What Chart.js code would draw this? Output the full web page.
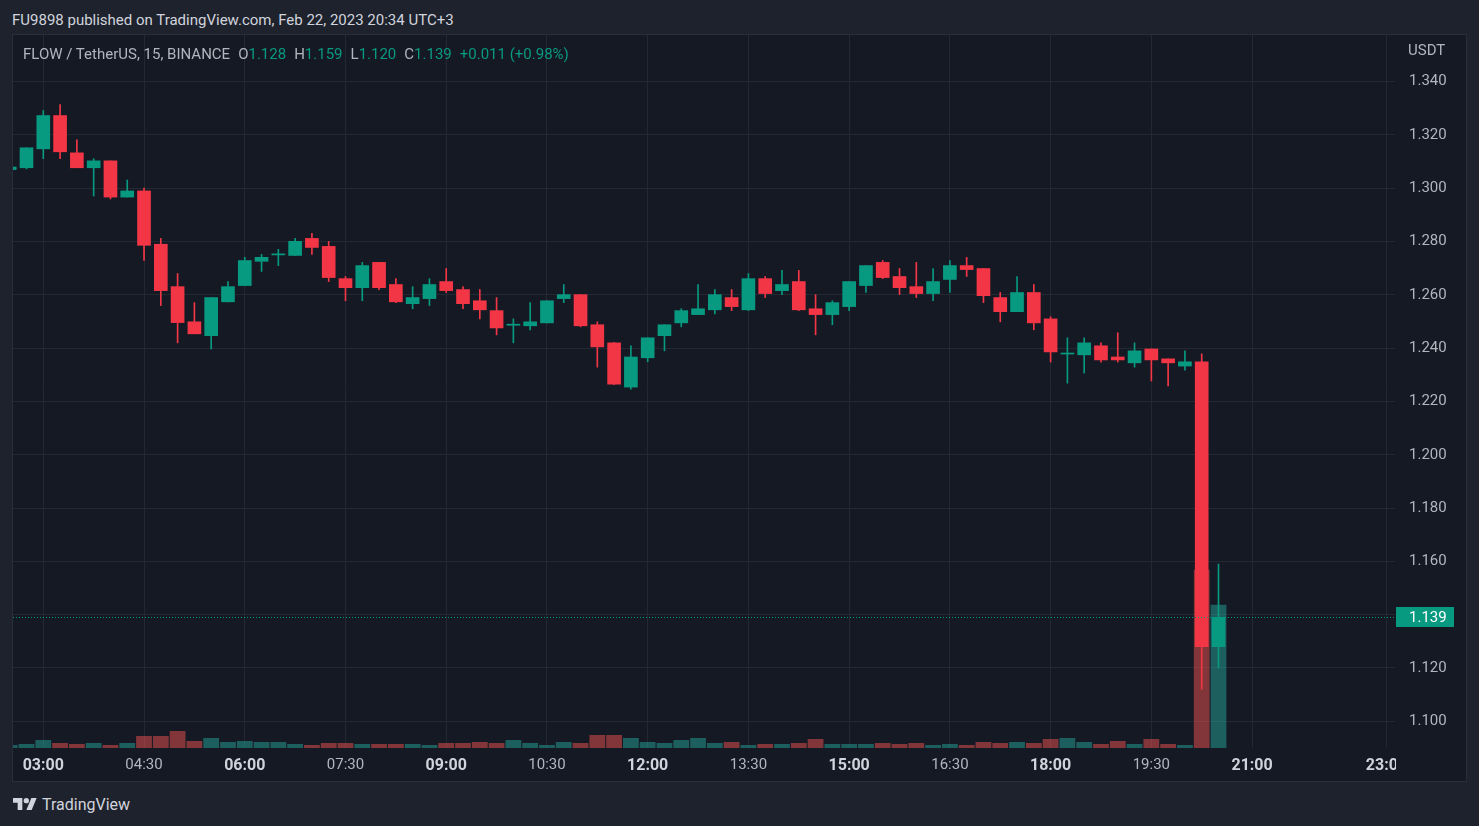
<!DOCTYPE html>
<html>
<head>
<meta charset="utf-8">
<script src="https://cdn.jsdelivr.net/npm/chart.js@4.4.0/dist/chart.umd.min.js"></script>
<style>
  html, body { margin: 0; padding: 0; width: 1479px; height: 826px; overflow: hidden; background: #1e222d; font-family: Roboto, sans-serif; }
  #title { position: absolute; left: 12px; top: 11px; font-size: 15px; line-height: 18px; color: #d1d4dc; white-space: nowrap; }
  #panel { position: absolute; left: 12px; top: 34px; width: 1455px; height: 748px; box-sizing: border-box; border: 1px solid #2a2e39; background: #151924; }
  #chart { position: absolute; left: 0; top: 0; }
  #legend { position: absolute; left: 10px; top: 10px; font-size: 15px; line-height: 18px; color: #b2b5be; white-space: nowrap; }
  #legend span.g { color: #089981; }
  #legend span.sp { margin-left: 8px; }
  #unit { position: absolute; left: 1395px; top: 6px; font-size: 15px; line-height: 18px; color: #b2b5be; }
  #footer { position: absolute; left: 13px; top: 795px; height: 18px; display: flex; align-items: center; color: #d1d4dc; font-size: 16px; }
  #footer svg { margin-right: 5px; }
</style>
</head>
<body>
<div id="title">FU9898 published on TradingView.com, Feb 22, 2023 20:34 UTC+3</div>
<div id="panel">
  <canvas id="chart" width="1453" height="746"></canvas>
  <div id="legend"></div>
  <div id="unit">USDT</div>
</div>
<div id="footer">
  <svg width="24" height="12" viewBox="0 4 36 18"><path fill="#d1d4dc" d="M14 22H7V11H0V4h14v18zM28 22h-8l7.5-18h8L28 22z"/><circle fill="#d1d4dc" cx="20" cy="8" r="4"/></svg>
  <span>TradingView</span>
</div>
<script>
// 15분봉 시간
const times = [
  '02:30','02:45',
  '03:00','03:15','03:30','03:45',
  '04:00','04:15','04:30','04:45',
  '05:00','05:15','05:30','05:45',
  '06:00','06:15','06:30','06:45',
  '07:00','07:15','07:30','07:45',
  '08:00','08:15','08:30','08:45',
  '09:00','09:15','09:30','09:45',
  '10:00','10:15','10:30','10:45',
  '11:00','11:15','11:30','11:45',
  '12:00','12:15','12:30','12:45',
  '13:00','13:15','13:30','13:45',
  '14:00','14:15','14:30','14:45',
  '15:00','15:15','15:30','15:45',
  '16:00','16:15','16:30','16:45',
  '17:00','17:15','17:30','17:45',
  '18:00','18:15','18:30','18:45',
  '19:00','19:15','19:30','19:45',
  '20:00','20:15','20:30'
];
const open = [
  1.3070, 1.3077,
  1.3148, 1.3273, 1.3133, 1.3077,
  1.3103, 1.2967, 1.2990, 1.2790,
  1.2631, 1.2499, 1.2447, 1.2574,
  1.2635, 1.2726, 1.2750, 1.2748,
  1.2812, 1.2782, 1.2661, 1.2627,
  1.2722, 1.2639, 1.2567, 1.2586,
  1.2650, 1.2620, 1.2578, 1.2541,
  1.2486, 1.2484, 1.2495, 1.2586,
  1.2601, 1.2488, 1.2420, 1.2254,
  1.2364, 1.2447, 1.2495, 1.2526,
  1.2544, 1.2590, 1.2544, 1.2661,
  1.2616, 1.2650, 1.2548, 1.2526,
  1.2556, 1.2635, 1.2722, 1.2669,
  1.2631, 1.2605, 1.2658, 1.2710,
  1.2699, 1.2590, 1.2537, 1.2609,
  1.2510, 1.2378, 1.2375, 1.2409,
  1.2367, 1.2345, 1.2397, 1.2360,
  1.2333, 1.2349, 1.1280
];
const high = [
  1.3082, 1.3152,
  1.3292, 1.3314, 1.3182, 1.3111,
  1.3103, 1.3031, 1.3001, 1.2812,
  1.2680, 1.2571, 1.2590, 1.2650,
  1.2741, 1.2752, 1.2771, 1.2812,
  1.2831, 1.2801, 1.2669, 1.2722,
  1.2722, 1.2661, 1.2631, 1.2661,
  1.2699, 1.2631, 1.2620, 1.2590,
  1.2510, 1.2571, 1.2578, 1.2639,
  1.2601, 1.2499, 1.2422, 1.2409,
  1.2439, 1.2488, 1.2548, 1.2639,
  1.2620, 1.2620, 1.2680, 1.2669,
  1.2692, 1.2692, 1.2601, 1.2578,
  1.2650, 1.2710, 1.2729, 1.2699,
  1.2722, 1.2699, 1.2729, 1.2741,
  1.2699, 1.2609, 1.2669, 1.2639,
  1.2518, 1.2439, 1.2439, 1.2420,
  1.2458, 1.2420, 1.2397, 1.2360,
  1.2390, 1.2379, 1.1590
];
const low = [
  1.3068, 1.3073,
  1.3111, 1.3111, 1.3077, 1.2971,
  1.2960, 1.2967, 1.2729, 1.2560,
  1.2420, 1.2454, 1.2397, 1.2574,
  1.2635, 1.2688, 1.2710, 1.2748,
  1.2752, 1.2650, 1.2578, 1.2578,
  1.2620, 1.2571, 1.2548, 1.2560,
  1.2609, 1.2548, 1.2510, 1.2450,
  1.2420, 1.2469, 1.2495, 1.2571,
  1.2480, 1.2329, 1.2263, 1.2246,
  1.2349, 1.2390, 1.2480, 1.2526,
  1.2529, 1.2541, 1.2541, 1.2590,
  1.2601, 1.2541, 1.2450, 1.2488,
  1.2541, 1.2609, 1.2661, 1.2601,
  1.2590, 1.2578, 1.2609, 1.2669,
  1.2571, 1.2499, 1.2537, 1.2469,
  1.2348, 1.2269, 1.2307, 1.2348,
  1.2348, 1.2329, 1.2277, 1.2258,
  1.2318, 1.1121, 1.1200
];
const close = [
  1.3080, 1.3152,
  1.3273, 1.3137, 1.3077, 1.3103,
  1.2967, 1.2990, 1.2786, 1.2616,
  1.2496, 1.2454, 1.2590, 1.2631,
  1.2729, 1.2741, 1.2754, 1.2801,
  1.2778, 1.2665, 1.2627, 1.2710,
  1.2627, 1.2574, 1.2590, 1.2639,
  1.2616, 1.2567, 1.2544, 1.2476,
  1.2490, 1.2499, 1.2578, 1.2601,
  1.2484, 1.2405, 1.2265, 1.2367,
  1.2439, 1.2488, 1.2541, 1.2548,
  1.2601, 1.2556, 1.2661, 1.2605,
  1.2639, 1.2544, 1.2526, 1.2571,
  1.2650, 1.2710, 1.2665, 1.2627,
  1.2605, 1.2650, 1.2710, 1.2695,
  1.2597, 1.2537, 1.2609, 1.2495,
  1.2386, 1.2382, 1.2420, 1.2356,
  1.2356, 1.2390, 1.2356, 1.2345,
  1.2349, 1.1280, 1.1390
];
// 거래량 (천 단위)
const volume = [
  12, 16,
  32, 20, 16, 20,
  12, 20, 48, 48,
  68, 28, 40, 24,
  28, 24, 24, 16,
  12, 20, 20, 16,
  16, 16, 16, 12,
  20, 20, 24, 20,
  32, 20, 12, 24,
  20, 52, 52, 40,
  24, 20, 32, 40,
  20, 24, 12, 16,
  16, 20, 36, 16,
  16, 16, 20, 16,
  20, 12, 16, 12,
  24, 20, 24, 20,
  36, 40, 24, 16,
  28, 16, 36, 16,
  12, 712, 572
];
// 축 눈금
const timeTicks = ['03:00','04:30','06:00','07:30','09:00','10:30','12:00','13:30','15:00','16:30','18:00','19:30','21:00','23:00'];
const boldTicks = ['03:00','06:00','09:00','12:00','15:00','18:00','21:00','23:00'];
const priceTicks = [1.100, 1.120, 1.140, 1.160, 1.180, 1.200, 1.220, 1.240, 1.260, 1.280, 1.300, 1.320, 1.340];

const GREEN = '#089981', RED = '#f23645';
const VOL_GREEN = 'rgba(38, 166, 154, 0.5)', VOL_RED = 'rgba(239, 83, 80, 0.5)';
const GRID = '#242833', BG = '#151924';

const toMin = s => { const p = s.split(':'); return (+p[0]) * 60 + (+p[1]); };
const fmtMin = v => String(Math.floor(v / 60)).padStart(2, '0') + ':' + String(v % 60).padStart(2, '0');
const isBold = c => !!(c.tick && boldTicks.includes(fmtMin(c.tick.value)));

const xs = times.map(toMin);
const up = close.map((c, i) => c >= open[i]);
const last = close.length - 1;

// 범례 텍스트
const chg = close[last] - close[last - 1];
document.getElementById('legend').innerHTML =
  'FLOW / TetherUS, 15, BINANCE' +
  '<span class="sp">O</span><span class="g">' + open[last].toFixed(3) + '</span>' +
  '<span class="sp">H</span><span class="g">' + high[last].toFixed(3) + '</span>' +
  '<span class="sp">L</span><span class="g">' + low[last].toFixed(3) + '</span>' +
  '<span class="sp">C</span><span class="g">' + close[last].toFixed(3) + '</span>' +
  '<span class="sp g">+' + chg.toFixed(3) + ' (+' + (chg / close[last - 1] * 100).toFixed(2) + '%)</span>';

// 현재가 점선 + 가격 라벨
const lastPrice = {
  id: 'lastPrice',
  afterDatasetsDraw(chart) {
    const {ctx, chartArea} = chart;
    const y = Math.round(chart.scales.y.getPixelForValue(close[last])) + 0.5;
    ctx.save();
    ctx.strokeStyle = GREEN;
    ctx.lineWidth = 1;
    ctx.setLineDash([1, 2]);
    ctx.beginPath();
    ctx.moveTo(chartArea.left, y);
    ctx.lineTo(chartArea.right, y);
    ctx.stroke();
    ctx.restore();
  },
  afterDraw(chart) {
    const {ctx, chartArea, width, height} = chart;
    ctx.save();
    // 가격축 영역으로 넘친 시간 라벨 잘라내기
    ctx.fillStyle = BG;
    ctx.fillRect(chartArea.right + 1, chartArea.bottom, width - chartArea.right - 1, height - chartArea.bottom);
    const y = Math.round(chart.scales.y.getPixelForValue(close[last]));
    ctx.fillStyle = GREEN;
    ctx.fillRect(chartArea.right + 1, y - 10, 58, 20);
    ctx.fillStyle = '#ffffff';
    ctx.font = '15px Roboto';
    ctx.textBaseline = 'middle';
    ctx.textAlign = 'left';
    ctx.fillText(close[last].toFixed(3), chartArea.right + 14, y + 1);
    ctx.restore();
  }
};

const ctx = document.getElementById('chart').getContext('2d');
new Chart(ctx, {
  type: 'bar',
  data: {
    datasets: [
      {
        label: 'wick',
        data: xs.map((x, i) => ({x: x, y: [low[i], high[i]]})),
        backgroundColor: up.map(u => u ? GREEN : RED),
        barThickness: 1,
        grouped: false,
        order: 2
      },
      {
        label: 'body',
        data: xs.map((x, i) => ({x: x, y: [open[i], close[i]]})),
        backgroundColor: up.map(u => u ? GREEN : RED),
        barThickness: 13,
        minBarLength: 1,
        grouped: false,
        order: 1
      },
      {
        label: 'volume',
        data: xs.map((x, i) => ({x: x, y: volume[i]})),
        backgroundColor: up.map(u => u ? VOL_GREEN : VOL_RED),
        yAxisID: 'yVol',
        barPercentage: 0.94,
        categoryPercentage: 1,
        grouped: false,
        order: 3
      }
    ]
  },
  options: {
    responsive: false,
    animation: false,
    layout: { padding: 0 },
    plugins: { legend: { display: false }, tooltip: { enabled: false } },
    scales: {
      x: {
        type: 'linear',
        min: 152.93,
        max: 1387.7,
        offset: false,
        grid: { offset: false, color: GRID, drawTicks: false },
        border: { display: false },
        afterBuildTicks: s => { s.ticks = timeTicks.map(t => ({value: toMin(t)})); },
        afterFit: s => { s.height = 33; s.paddingLeft = 0; s.paddingRight = 0; },
        ticks: {
          autoSkip: false,
          maxRotation: 0,
          padding: 8,
          callback: v => fmtMin(v),
          color: c => isBold(c) ? '#d1d4dc' : '#b2b5be',
          font: c => isBold(c) ? { family: 'Roboto', size: 16, weight: 'bold' } : { family: 'Roboto', size: 15, weight: 'normal' }
        }
      },
      y: {
        position: 'right',
        min: 1.08998,
        max: 1.35752,
        grid: { color: GRID, drawTicks: false },
        border: { display: false },
        afterBuildTicks: s => { s.ticks = priceTicks.map(v => ({value: v})); },
        afterFit: s => { s.width = 71; s.paddingTop = 0; s.paddingBottom = 0; },
        ticks: {
          padding: 14,
          color: '#b2b5be',
          font: { family: 'Roboto', size: 15 },
          callback: v => v.toFixed(3)
        }
      },
      yVol: {
        display: false,
        min: 0,
        max: Math.max(...volume) / 0.25
      }
    }
  },
  plugins: [lastPrice]
});
</script>
</body>
</html>
